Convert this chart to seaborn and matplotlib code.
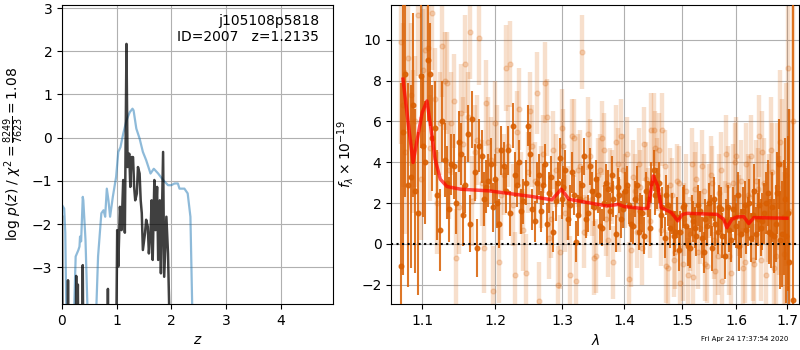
import matplotlib
matplotlib.use('Agg')
import matplotlib.pyplot as plt
import seaborn as sns
from matplotlib.ticker import NullLocator

# left panel: chi2-based curve (blue) and p(z) (black)
z_chi2 = [0.0, 0.04, 0.06, 0.09, 0.2, 0.25, 0.3, 0.32, 0.33, 0.35, 0.38, 0.39, 0.43, 0.49,
          0.6, 0.66, 0.72, 0.76, 0.79, 0.82, 0.85, 0.88, 0.93, 0.99, 1.03, 1.07, 1.12, 1.18,
          1.24, 1.29, 1.31, 1.36, 1.42, 1.48, 1.54, 1.62, 1.68, 1.76, 1.85, 1.94, 2.0, 2.06,
          2.12, 2.15, 2.24, 2.3, 2.35, 2.4]
logp_chi2 = [-1.56, -1.64, -2.2, -5, -5, -2.75, -2.6, -2.52, -2.29, -2.4, -1.37, -1.45, -2.37, -5,
             -5, -2.75, -1.75, -1.68, -1.83, -1.18, -1.45, -1.83, -1.37, -0.91, -0.33, -0.22, 0.09, 0.4,
             0.59, 0.67, 0.63, 0.21, -0.02, -0.33, -0.52, -0.83, -0.72, -0.83, -0.98, -1.1, -1.1, -1.06,
             -1.06, -1.18, -1.18, -1.29, -1.83, -5]

z_pz = [0.0, 0.01, 0.1, 0.11, 0.12, 0.25, 0.26, 0.27, 0.29, 0.3, 0.37, 0.38, 0.39, 0.83, 0.84,
        0.85, 0.99, 1.01, 1.03, 1.06, 1.09, 1.12, 1.15, 1.18, 1.2, 1.23, 1.25, 1.27, 1.3, 1.32,
        1.34, 1.37, 1.39, 1.42, 1.44, 1.46, 1.48, 1.52, 1.54, 1.57, 1.59, 1.62, 1.64, 1.66, 1.69,
        1.71, 1.74, 1.76, 1.79, 1.81, 1.85, 1.87, 1.91, 1.94, 1.98]
logp_pz = [-1.83, -5, -5, -3.3, -5, -5, -3.2, -5, -3.4, -5, -5, -2.95, -5, -5, -3.5,
           -5, -5, -2.14, -2.98, -1.6, -2.14, -0.98, -2.2, 2.17, -0.68, -0.37, -1.14, -0.45, -0.45, -1.14,
           -1.45, -1.29, -0.68, -0.83, -1.45, -1.75, -2.6, -2.2, -1.9, -2.06, -2.68, -2.2, -1.45, -2.83, -0.98,
           -2.14, -1.14, -2.83, -1.45, -3.14, -0.33, -3.22, -1.83, -2.68, -5]

# right panel: wavelength grids (microns)
wave_a = [1.072, 1.078, 1.085, 1.091, 1.098, 1.104, 1.110, 1.117, 1.123, 1.130,
          1.136, 1.142, 1.149, 1.155, 1.162, 1.168, 1.174, 1.181, 1.187, 1.194,
          1.200, 1.206, 1.213, 1.219, 1.226, 1.232, 1.238, 1.245, 1.251, 1.258,
          1.264, 1.270, 1.277, 1.283, 1.290, 1.296, 1.302, 1.309, 1.315, 1.322,
          1.328, 1.334, 1.341, 1.347, 1.354, 1.360, 1.366, 1.373, 1.379, 1.386,
          1.392, 1.398, 1.405, 1.411, 1.418, 1.424, 1.430, 1.437, 1.443, 1.450,
          1.456, 1.462, 1.469, 1.475, 1.482, 1.488, 1.494, 1.501, 1.507, 1.514,
          1.520, 1.526, 1.533, 1.539, 1.546, 1.552, 1.558, 1.565, 1.571, 1.578,
          1.584, 1.590, 1.597, 1.603, 1.610, 1.616, 1.622, 1.629, 1.635, 1.642,
          1.648, 1.654, 1.661, 1.667, 1.674, 1.680, 1.686, 1.693, 1.699, 1.705,
          1.712]
wave_b = [1.075, 1.081, 1.088, 1.094, 1.101, 1.107, 1.113, 1.120, 1.126, 1.133,
          1.139, 1.145, 1.152, 1.158, 1.165, 1.171, 1.177, 1.184, 1.190, 1.197,
          1.203, 1.209, 1.216, 1.222, 1.229, 1.235, 1.241, 1.248, 1.254, 1.261,
          1.267, 1.273, 1.280, 1.286, 1.293, 1.299, 1.305, 1.312, 1.318, 1.325,
          1.331, 1.337, 1.344, 1.350, 1.357, 1.363, 1.369, 1.376, 1.382, 1.389,
          1.395, 1.401, 1.408, 1.414, 1.421, 1.427, 1.433, 1.440, 1.446, 1.453,
          1.459, 1.465, 1.472, 1.478, 1.485, 1.491, 1.497, 1.504, 1.510, 1.517,
          1.523, 1.529, 1.536, 1.542, 1.549, 1.555, 1.561, 1.568, 1.574, 1.581,
          1.587, 1.593, 1.600, 1.606, 1.613, 1.619, 1.625, 1.632, 1.638, 1.645,
          1.651, 1.657, 1.664, 1.670, 1.677, 1.683, 1.689, 1.696, 1.702]

# dark spectrum, sampled on both grids
flux_dark_a = [-1.1, 8.3, 3.3, 2.6, 8.2, 4.0, 8.3, 5.7, 0.7, 4.1,
               1.7, 3.8, 5.0, 1.4, 5.4, 6.1, -0.2, 4.3, 2.8, 3.9,
               3.2, 1.0, 3.8, 4.6, 5.8, 2.9, 1.6, 3.0, 4.4, 1.1,
               3.4, 2.9, 1.0, 3.3, 2.1, 4.2, 2.8, 1.2, 3.5, 0.1,
               2.2, 4.3, 1.5, 2.6, 3.2, 0.9, 2.0, 2.7, 3.4, 0.5,
               2.4, 1.7, 2.9, 1.0, 2.2, 0.6, 1.5, 2.6, 0.8, 3.6,
               2.7, 1.4, 0.3, 1.9, 1.5, 0.6, -0.3, 1.8, 0.9, -0.2,
               1.1, 0.4, 1.6, -0.4, 0.9, 1.4, 2.2, 0.6, 1.7, -0.6,
               1.8, 0.2, 1.3, 2.4, 0.5, 1.9, 1.1, 0.3, 2.6, 1.2,
               0.8, 1.5, 2.5, 0.5, 0.4, 2.5, 0.2, 1.3, 0.4, -0.9,
               -2.75]
err_dark_a = [9.0, 6.0, 4.5, 4.0, 3.5, 3.0, 2.5, 2.3, 2.0, 1.8,
              1.6, 1.6, 1.5, 1.5, 1.4, 1.4, 1.4, 1.3, 1.3, 1.3,
              1.2, 1.2, 1.2, 1.2, 1.1, 1.1, 1.1, 1.1, 1.1, 1.0,
              1.0, 1.0, 1.0, 1.0, 1.0, 1.0, 1.0, 1.0, 1.0, 1.0,
              0.9, 0.9, 0.9, 0.9, 0.9, 0.9, 0.9, 0.9, 0.9, 0.9,
              0.9, 0.9, 0.9, 0.9, 0.9, 0.9, 0.9, 0.9, 0.9, 1.0,
              1.0, 1.0, 1.0, 1.0, 1.0, 1.0, 1.0, 1.0, 1.0, 1.0,
              1.0, 1.0, 1.0, 1.0, 1.0, 1.0, 1.1, 1.1, 1.1, 1.1,
              1.1, 1.1, 1.1, 1.1, 1.2, 1.2, 1.2, 1.2, 1.3, 1.3,
              1.4, 1.5, 1.6, 1.7, 1.8, 2.0, 2.4, 2.8, 3.3, 7.5,
              15.0]
flux_dark_b = [5.5, 2.9, 6.8, 1.5, 4.8, 9.0, 5.2, 2.4, 6.0, 3.0,
               3.9, 2.0, 4.4, 2.9, 1.0, 3.5, 4.8, 2.2, 3.1, 1.8,
               2.0, 4.6, 2.6, 1.5, 3.4, 4.0, 2.1, 5.8, 1.7, 3.0,
               1.6, 3.9, 2.5, 0.6, 3.0, 2.2, 3.6, 1.9, 2.4, 1.4,
               2.9, 1.2, 3.8, 1.8, 2.4, 0.8, 3.0, 1.6, 2.2, 2.8,
               1.2, 2.6, 1.9, 0.9, 2.9, 1.6, 0.4, 2.2, 3.0, 2.4,
               3.0, 1.8, 2.4, 0.8, 0.4, 1.3, 0.6, 1.9, -0.1, 1.4,
               0.8, 1.9, 0.3, 1.2, 2.0, -0.2, 1.0, 1.8, 0.4, 1.1,
               0.7, 1.7, 0.9, -0.1, 1.6, 0.7, 2.0, 1.4, 0.5, 1.9,
               1.1, 2.0, 0.6, 1.8, 1.0, 3.9, 0.5, 2.2, 1.5]
err_dark_b = [7.0, 5.0, 4.5, 4.0, 3.5, 3.0, 2.6, 2.2, 2.0, 1.8,
              1.5, 1.5, 1.5, 1.4, 1.4, 1.4, 1.3, 1.3, 1.3, 1.2,
              1.2, 1.2, 1.1, 1.1, 1.1, 1.1, 1.1, 1.0, 1.0, 1.0,
              1.0, 1.0, 1.0, 1.0, 1.0, 1.0, 1.0, 1.0, 1.0, 1.0,
              0.9, 0.9, 0.9, 0.9, 0.9, 0.9, 0.9, 0.9, 0.9, 0.9,
              0.9, 0.9, 0.9, 0.9, 0.9, 0.9, 0.9, 0.9, 1.0, 1.0,
              1.0, 1.0, 1.0, 1.0, 1.0, 1.0, 1.0, 1.0, 1.0, 1.0,
              1.0, 1.0, 1.0, 1.0, 1.0, 1.1, 1.1, 1.1, 1.1, 1.1,
              1.1, 1.1, 1.1, 1.2, 1.2, 1.2, 1.2, 1.3, 1.3, 1.3,
              1.4, 1.5, 1.6, 1.7, 1.9, 2.2, 2.6, 3.0, 3.8]

# light (second) spectrum, sampled on both grids
flux_light_b = [6.8, 9.1, 5.0, 11.2, 8.5, 9.6, 11.3, 2.0, 9.7, 7.9,
                5.9, -0.7, 6.4, 8.8, 10.4, 4.5, 10.1, -0.2, 5.0, -2.3,
                4.6, 2.4, 8.6, 8.8, -1.5, 6.6, 0.7, 3.5, 4.8, 7.4,
                2.8, 7.9, 0.3, 4.6, -2.0, 5.7, 1.5, -1.5, 5.2, 3.6,
                9.4, 2.2, 4.3, -0.7, 3.4, 5.2, 1.2, 2.9, -0.9, 3.9,
                5.3, 2.6, -1.7, 3.3, 0.6, 2.8, 4.9, 1.9, 5.6, 4.7,
                4.6, 5.6, -1.1, 2.9, -0.8, 3.1, -1.9, 1.2, -1.5, 3.9,
                2.7, -0.4, 3.8, -1.0, 2.1, 3.0, -1.3, 2.5, -1.8, 4.4,
                -0.6, 3.0, 4.3, 1.4, -1.2, 3.9, 2.3, -0.8, 3.1, 5.3,
                4.5, -1.5, 2.2, 3.5, -0.6, 1.4, 3.9, 0.2, 8.6]
err_light_b = [4.0, 3.5, 3.5, 3.0, 3.0, 2.8, 2.8, 2.5, 2.5, 2.5,
               2.5, 2.4, 2.4, 2.4, 2.3, 2.3, 2.3, 2.2, 2.2, 2.2,
               2.2, 2.2, 2.1, 2.1, 2.1, 2.0, 2.0, 2.0, 2.0, 2.0,
               2.0, 2.0, 2.0, 1.9, 1.9, 1.9, 1.9, 1.9, 1.9, 1.8,
               1.8, 1.8, 1.8, 1.8, 1.8, 1.8, 1.8, 1.8, 1.8, 1.8,
               1.8, 1.8, 1.8, 1.8, 1.8, 1.8, 1.8, 1.8, 1.8, 1.8,
               1.8, 1.8, 1.8, 1.8, 1.8, 1.8, 1.8, 1.8, 1.8, 1.8,
               1.8, 1.8, 1.8, 1.8, 1.8, 1.8, 1.9, 1.9, 1.9, 1.9,
               1.9, 1.9, 1.9, 2.0, 2.0, 2.0, 2.0, 2.0, 2.0, 2.0,
               2.0, 2.1, 2.2, 2.4, 2.6, 2.9, 3.2, 3.6, 4.5]
flux_light_a = [9.9, 4.5, 7.3, 6.0, 3.2, 9.5, 4.7, 7.1, 5.9, 8.0,
                3.6, 7.0, 1.8, 4.9, 6.2, 2.1, 5.1, 3.0, 6.9, 4.1,
                5.9, -0.9, 3.4, 4.8, 1.9, 5.5, 2.5, -1.4, 6.5, 3.1,
                -2.8, 4.4, 6.2, 1.2, 3.6, -0.4, 4.8, 2.0, 5.3, -1.8,
                3.8, 0.6, 5.4, 2.2, -0.6, 3.6, 4.6, 0.2, 2.8, 5.0,
                1.4, 3.6, 4.4, -0.3, 2.6, 3.9, -0.2, 3.2, 1.1, 5.6,
                3.4, 0.7, 3.8, -1.2, 2.4, -0.4, 3.0, -1.0, 2.6, 0.5,
                -1.6, 3.2, 0.8, 2.6, -1.1, 3.4, 0.2, -0.6, 3.6, 1.2,
                2.9, -1.4, 4.0, 0.6, 3.1, -0.9, 2.4, 4.3, -1.0, 2.7,
                -0.8, 3.0, 1.5, 4.6, -1.2, 2.8, 5.0, -0.5, 3.4, 1.6,
                6.0]
err_light_a = [5.0, 4.0, 3.5, 3.2, 3.0, 2.8, 2.6, 2.5, 2.5, 2.4,
               2.4, 2.3, 2.3, 2.3, 2.2, 2.2, 2.2, 2.1, 2.1, 2.1,
               2.1, 2.0, 2.0, 2.0, 2.0, 2.0, 2.0, 1.9, 1.9, 1.9,
               1.9, 1.9, 1.9, 1.9, 1.8, 1.8, 1.8, 1.8, 1.8, 1.8,
               1.8, 1.8, 1.8, 1.8, 1.8, 1.8, 1.8, 1.8, 1.8, 1.8,
               1.8, 1.8, 1.8, 1.8, 1.8, 1.8, 1.8, 1.8, 1.8, 1.8,
               1.8, 1.8, 1.8, 1.8, 1.8, 1.8, 1.8, 1.8, 1.8, 1.8,
               1.8, 1.8, 1.8, 1.8, 1.8, 1.9, 1.9, 1.9, 1.9, 1.9,
               1.9, 1.9, 1.9, 1.9, 2.0, 2.0, 2.0, 2.0, 2.0, 2.0,
               2.0, 2.2, 2.4, 2.6, 2.8, 3.1, 3.5, 4.0, 4.5, 5.0,
               6.0]

wave_model = [1.075, 1.0822, 1.088, 1.0935, 1.100, 1.1062, 1.111, 1.117, 1.124, 1.133,
              1.1518, 1.1914, 1.2543, 1.284, 1.2985, 1.3105, 1.334, 1.3714, 1.3902, 1.400,
              1.4326, 1.440, 1.4494, 1.457, 1.4632, 1.481, 1.4922, 1.5008, 1.5097, 1.5636,
              1.5761, 1.5823, 1.5919, 1.6014, 1.6144, 1.6243, 1.634, 1.700]
flux_model = [8.07, 5.78, 3.99, 5.13, 6.44, 7.0, 5.78, 4.15, 3.17, 2.81,
              2.68, 2.6, 2.32, 2.16, 2.68, 2.19, 2.06, 1.86, 1.94, 1.83,
              1.73, 1.75, 3.33, 2.84, 1.78, 1.54, 1.13, 1.45, 1.5, 1.45,
              1.21, 0.8, 1.21, 1.32, 1.34, 1.0, 1.29, 1.26]

orange = '#d95f02'

fig = plt.figure(figsize=(8, 3.5), dpi=100)
ax1 = fig.add_axes([0.0775, 0.1314, 0.3388, 0.8543])
ax2 = fig.add_axes([0.489, 0.1314, 0.51, 0.8543])

# p(z) panel
sns.lineplot(x=z_chi2, y=logp_chi2, ax=ax1, sort=False, estimator=None,
             color='tab:blue', alpha=0.5, linewidth=1.6)
sns.lineplot(x=z_pz, y=logp_pz, ax=ax1, sort=False, estimator=None,
             color='k', alpha=0.75, linewidth=1.8)
ax1.set_xlim(0, 4.96)
ax1.set_ylim(-3.85, 3.07)
ax1.set_xticks([0, 1, 2, 3, 4])
ax1.grid(True)
ax1.set_xlabel('$z$')
ax1.set_ylabel(r'log $p(z)$ / $\chi^2=\frac{8249}{7623}=1.08$')
ax1.text(0.948, 0.97, 'j105108p5818\nID=2007   z=1.2135', transform=ax1.transAxes,
         ha='right', va='top', fontsize=10)

# spectrum panel
ax2.errorbar(wave_a + wave_b, flux_light_a + flux_light_b, yerr=err_light_a + err_light_b,
             fmt='o', color=orange, alpha=0.2, markersize=3.5, elinewidth=3.2, zorder=2)
ax2.errorbar(wave_a + wave_b, flux_dark_a + flux_dark_b, yerr=err_dark_a + err_dark_b,
             fmt='o', color=orange, alpha=0.85, markersize=3.3, elinewidth=1.5, zorder=3)
sns.lineplot(x=wave_model, y=flux_model, ax=ax2, sort=False, estimator=None,
             color='r', alpha=0.7, linewidth=2.5, zorder=4)
ax2.axhline(0, color='k', linestyle=':', linewidth=1.5, zorder=5)
ax2.set_xscale('log')
ax2.set_xlim(1.06, 1.725)
ax2.set_ylim(-2.94, 11.7)
ax2.set_xticks([1.1, 1.2, 1.3, 1.4, 1.5, 1.6, 1.7])
ax2.set_xticklabels(['1.1', '1.2', '1.3', '1.4', '1.5', '1.6', '1.7'])
ax2.xaxis.set_minor_locator(NullLocator())
ax2.set_yticks([-2, 0, 2, 4, 6, 8, 10])
ax2.grid(True)
ax2.set_xlabel(r'$\lambda$')
ax2.set_ylabel(r'$f_\lambda \times 10^{-19}$')

fig.text(0.985, 0.022, 'Fri Apr 24 17:37:54 2020', ha='right', va='bottom', fontsize=5)

fig.savefig('out.png', dpi=100)
